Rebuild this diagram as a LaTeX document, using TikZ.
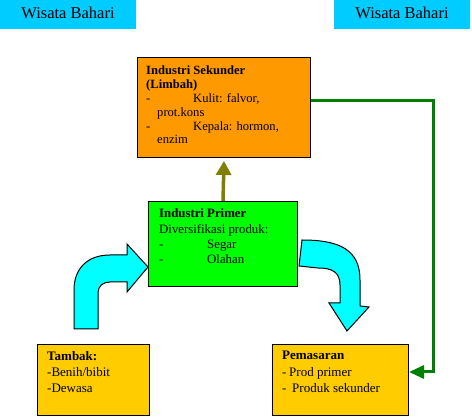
\documentclass[tikz,border=0pt]{standalone}
\usepackage{fontspec}
\setmainfont{Liberation Serif}
\usetikzlibrary{arrows.meta}
\definecolor{topcyan}{RGB}{0,204,255}
\definecolor{arrowcyan}{RGB}{0,255,255}
\definecolor{sekorange}{RGB}{255,153,0}
\definecolor{primgreen}{RGB}{0,255,0}
\definecolor{boxyellow}{RGB}{255,204,0}
\definecolor{linegreen}{RGB}{0,128,0}
\definecolor{lineolive}{RGB}{128,128,0}
\begin{document}
\begin{tikzpicture}[x=1pt,y=-1pt,
  box/.style={draw=black,line width=1pt,inner sep=0pt,anchor=north west},
  topbox/.style={fill=topcyan,inner sep=0pt,minimum width=136pt,minimum height=29pt,anchor=north west},
  txt/.style={anchor=base west,inner sep=0pt},
  carrow/.style={fill=arrowcyan,draw=black,line width=1pt,line join=miter},
  gline/.style={draw=linegreen,line width=3pt},
  oline/.style={draw=lineolive,line width=3.5pt}]
\useasboundingbox (0,0) rectangle (472,419);
% top labels
\node[topbox] (wb1) at (0,0) {};
\node[anchor=base,inner sep=0pt,font=\fontsize{16.5}{18}\selectfont] (wb1t) at (68,19) {Wisata Bahari};
\node[topbox] (wb2) at (334,0) {};
\node[anchor=base,inner sep=0pt,font=\fontsize{16.5}{18}\selectfont] (wb2t) at (402,19) {Wisata Bahari};
% boxes
\node[box,fill=sekorange,minimum width=173pt,minimum height=100pt] (sek) at (137,57) {};
\node[box,fill=primgreen,minimum width=149pt,minimum height=85pt] (prim) at (148,201) {};
\node[box,fill=boxyellow,minimum width=112pt,minimum height=71pt] (tam) at (37,344) {};
\node[box,fill=boxyellow,minimum width=136pt,minimum height=71pt] (pem) at (272,344) {};
% texts
\node[txt,font=\fontsize{12.6}{13.8}\selectfont] (sekt) at (146,75) {\vtop{\baselineskip=13.8pt
  \hbox{\bfseries Industri Sekunder}
  \hbox{\bfseries (Limbah)}
  \hbox{\makebox[47pt][l]{-}Kulit: falvor,}
  \hbox{\hspace{11pt}prot.kons}
  \hbox{\makebox[47pt][l]{-}Kepala: hormon,}
  \hbox{\hspace{11pt}enzim}}};
\node[txt,font=\fontsize{12.8}{15.3}\selectfont] (primt) at (159,218) {\vtop{\baselineskip=15.3pt
  \hbox{\bfseries Industri Primer}
  \hbox{Diversifikasi produk:}
  \hbox{\makebox[48pt][l]{-}Segar}
  \hbox{\makebox[48pt][l]{-}Olahan}}};
\node[txt,font=\fontsize{13}{16}\selectfont] (tamt) at (47,361) {\vtop{\baselineskip=16pt
  \hbox{\bfseries Tambak:}
  \hbox{-Benih/bibit}
  \hbox{-Dewasa}}};
\node[txt,font=\fontsize{13}{16.5}\selectfont] (pemt) at (282,360) {\vtop{\baselineskip=16.5pt
  \hbox{\bfseries Pemasaran}
  \hbox{\makebox[7pt][l]{-}Prod primer}
  \hbox{\makebox[10pt][l]{-}Produk sekunder}}};
% cyan curved arrows
\draw[carrow] (74,329) -- (74,290) .. controls (74,268) and (88,255) .. (110,255)
  -- (127,255) -- (127,244) -- (148,267) -- (127,292) -- (127,282) -- (110,282)
  .. controls (103,282) and (98,286) .. (98,293) -- (98,329) -- cycle;
\draw[carrow] (302,240) .. controls (340,240) and (360,250) .. (360,280) -- (360,306)
  -- (369,307) -- (347,331) -- (329,303) -- (340,303) -- (340,285)
  .. controls (340,272) and (332,268) .. (318,268) -- (299,266) -- cycle;
% connectors
\draw[oline,-{Triangle[length=14pt,width=15pt]}] (prim.north) -- ([yshift=-3pt]sek.south);
\coordinate (gcorner) at (433,372);
\draw[gline,-{Triangle[length=15pt,width=13pt]}] ([yshift=7pt]sek.east) -| (gcorner) -- (pem.east |- gcorner);
\end{tikzpicture}
\end{document}
